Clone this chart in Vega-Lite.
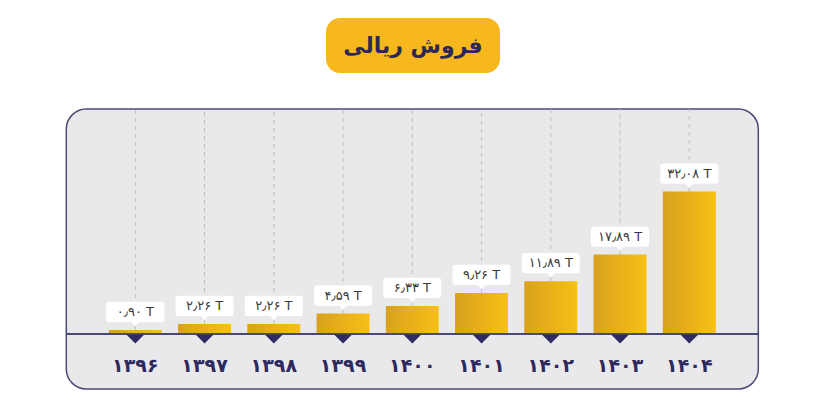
{
  "$schema": "https://vega.github.io/schema/vega-lite/v6.json",
  "background": "#ffffff",
  "padding": {"left": 64, "top": 18, "right": 0, "bottom": 0},
  "spacing": 34,
  "center": true,
  "config": {"view": {"stroke": null}},
  "datasets": {
    "sales": [
      {"year": "۱۳۹۶", "v": 0.90, "label": "۰٫۹۰ T"},
      {"year": "۱۳۹۷", "v": 2.26, "label": "۲٫۲۶ T"},
      {"year": "۱۳۹۸", "v": 2.26, "label": "۲٫۲۶ T"},
      {"year": "۱۳۹۹", "v": 4.59, "label": "۴٫۵۹ T"},
      {"year": "۱۴۰۰", "v": 6.33, "label": "۶٫۳۳ T"},
      {"year": "۱۴۰۱", "v": 9.26, "label": "۹٫۲۶ T"},
      {"year": "۱۴۰۲", "v": 11.89, "label": "۱۱٫۸۹ T"},
      {"year": "۱۴۰۳", "v": 17.89, "label": "۱۷٫۸۹ T"},
      {"year": "۱۴۰۴", "v": 32.08, "label": "۳۲٫۰۸ T"}
    ]
  },
  "vconcat": [
    {
      "width": 174,
      "height": 55,
      "view": {"fill": "#f7b81d", "stroke": null, "cornerRadius": 14},
      "data": {"values": [{"t": "فروش ریالی"}]},
      "mark": {"type": "text", "font": "DejaVu Sans", "fontWeight": "bold", "fontSize": 22, "color": "#2d2857", "baseline": "middle", "align": "center"},
      "encoding": {
        "text": {"field": "t"},
        "y": {"field": "t", "type": "nominal", "axis": {"labels": false, "ticks": false, "domain": false, "grid": false, "title": null, "minExtent": 15, "maxExtent": 15}}
      }
    },
    {
      "width": 692,
      "height": 280,
      "view": {"fill": "#e9e9eb", "stroke": "#4a4a78", "strokeWidth": 1.5, "cornerRadius": 20},
      "data": {"name": "sales"},
      "encoding": {
        "x": {"field": "year", "type": "nominal", "sort": null, "axis": null, "scale": {"paddingInner": 0.235, "paddingOuter": 0.614}}
      },
      "layer": [
        {
          "mark": {"type": "rule", "strokeDash": [4, 4], "color": "#bdbdc2", "strokeWidth": 1},
          "encoding": {
            "y": {"field": "v", "type": "quantitative", "axis": null, "scale": {"domain": [-12.4, 50.7], "nice": false, "zero": false}},
            "y2": {"datum": 50.7}
          }
        },
        {
          "mark": {"type": "bar", "color": {"gradient": "linear", "x1": 0, "x2": 1, "y1": 0, "y2": 0, "stops": [{"offset": 0, "color": "#d9a11e"}, {"offset": 1, "color": "#f7c015"}]}},
          "encoding": {
            "y": {"field": "v", "type": "quantitative"},
            "y2": {"datum": 0}
          }
        },
        {
          "mark": {"type": "rule", "color": "#4a4a78", "strokeWidth": 1.3},
          "encoding": {"y": {"datum": 0}, "x": {}}
        },
        {
          "mark": {"type": "point", "shape": "M-1,0L1,0L0,1Z", "filled": true, "opacity": 1, "color": "#2f2b63", "size": 324},
          "encoding": {"y": {"datum": 0}, "yOffset": {"value": 0.5}}
        },
        {
          "mark": {"type": "text", "font": "DejaVu Sans", "fontWeight": "bold", "fontSize": 19, "color": "#2e2a5e", "baseline": "middle", "dy": 32},
          "encoding": {"y": {"datum": 0}, "text": {"field": "year"}}
        },
        {
          "mark": {"type": "point", "shape": "M-0.89,-0.35L0.89,-0.35Q1,-0.35 1,-0.24L1,0.24Q1,0.35 0.89,0.35L0.13,0.35L0,0.49L-0.13,0.35L-0.89,0.35Q-1,0.35 -1,0.24L-1,-0.24Q-1,-0.35 -0.89,-0.35Z", "filled": true, "opacity": 1, "color": "#ffffff", "size": 3364},
          "encoding": {"y": {"field": "v", "type": "quantitative"}, "yOffset": {"value": -18}}
        },
        {
          "mark": {"type": "text", "font": "DejaVu Sans", "fontSize": 13, "color": "#3a3a3a", "baseline": "middle"},
          "encoding": {"y": {"field": "v", "type": "quantitative"}, "yOffset": {"value": -18}, "text": {"field": "label"}}
        }
      ]
    }
  ]
}
